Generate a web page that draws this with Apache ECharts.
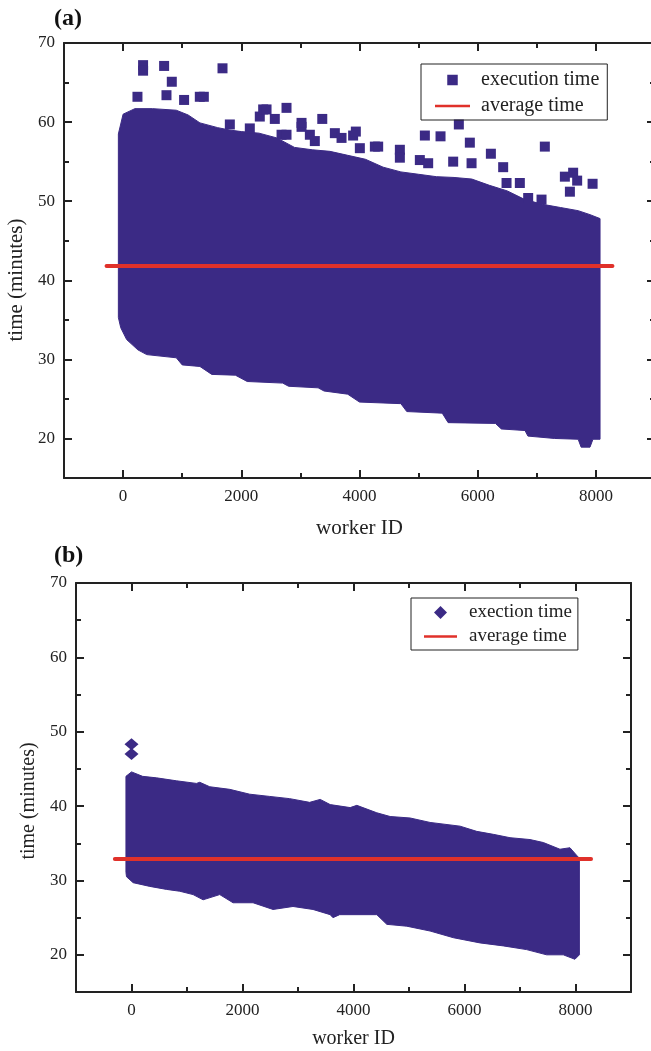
<!DOCTYPE html>
<html>
<head>
<meta charset="utf-8">
<script src="https://cdn.jsdelivr.net/npm/echarts@6/dist/echarts.min.js"></script>
<style>
html,body{margin:0;padding:0;background:#fff;}
#main{width:651px;height:1051px;}
</style>
</head>
<body>
<div id="main"></div>
<script>
// tick positions, shared by both panels
var xMajorTicks = [0, 2000, 4000, 6000, 8000];
var xMinorTicks = [1000, 3000, 5000, 7000];
var yMajorTicks = [20, 30, 40, 50, 60, 70];
var yMinorTicks = [25, 35, 45, 55, 65];

// panel (a): outline of the dense cloud of execution times
var aTopX = [-80, 0, 200, 500, 900, 1100, 1300, 1600, 1800, 2000, 2300, 2600, 2900, 3200, 3500, 3800, 4100, 4400, 4700, 5000, 5300, 5600, 5900, 6200, 6500, 6800, 7100, 7400, 7700, 7900, 8070];
var aTopY = [58.5, 61.0, 61.7, 61.7, 61.5, 60.9, 59.9, 59.3, 59.0, 58.8, 58.6, 58.0, 56.8, 56.5, 56.3, 55.8, 55.3, 54.3, 53.7, 53.4, 53.1, 53.0, 52.8, 52.0, 51.3, 50.2, 49.6, 49.2, 48.8, 48.3, 47.8];
var aLowX = [-80, -40, 60, 250, 400, 900, 1000, 1300, 1500, 1900, 2100, 2700, 2800, 3300, 3400, 3800, 4000, 4700, 4800, 5400, 5500, 6300, 6400, 6800, 6850, 7300, 7700, 7750, 7900, 7950, 8070];
var aLowY = [35.3, 34.0, 32.5, 31.2, 30.6, 30.2, 29.3, 29.1, 28.1, 28.0, 27.2, 27.0, 26.6, 26.4, 26.0, 25.6, 24.6, 24.4, 23.4, 23.2, 22.0, 21.9, 21.2, 21.0, 20.3, 20.0, 19.9, 18.9, 18.9, 19.9, 19.9];
// panel (a): single squares standing out of the cloud
var aOutX = [338, 338, 694, 824, 243, 734, 1032, 1298, 1366, 1682, 1806, 2144, 2313, 2370, 2427, 2567, 2765, 2681, 2765, 3019, 3019, 3160, 3244, 3370, 3583, 3696, 3892, 3938, 4006, 4260, 4316, 4683, 4683, 5021, 5162, 5106, 5371, 5681, 5867, 5585, 5896, 6223, 6431, 6488, 6713, 6854, 7080, 7136, 7475, 7615, 7683, 7560, 7944];
var aOutY = [67.2, 66.5, 67.1, 65.1, 63.2, 63.4, 62.8, 63.2, 63.2, 66.8, 59.7, 59.2, 60.7, 61.6, 61.6, 60.4, 61.8, 58.4, 58.4, 59.4, 59.9, 58.4, 57.6, 60.4, 58.6, 58.0, 58.3, 58.8, 56.7, 56.9, 56.9, 56.5, 55.5, 55.2, 54.8, 58.3, 58.2, 59.7, 57.4, 55.0, 54.8, 56.0, 54.3, 52.3, 52.3, 50.4, 50.2, 56.9, 53.1, 53.6, 52.6, 51.2, 52.2];
var aAvgX = [-280, 8280];
var aAvgY = [41.8, 41.8];

// panel (b)
var bTopX = [-100, 0, 200, 450, 810, 1170, 1230, 1410, 1770, 2130, 2490, 2850, 3210, 3400, 3580, 3940, 4060, 4420, 4660, 5020, 5380, 5920, 6220, 6520, 6820, 7180, 7420, 7720, 7900, 8030, 8070];
var bTopY = [44.0, 44.6, 44.0, 43.8, 43.4, 43.05, 43.2, 42.6, 42.25, 41.6, 41.3, 41.0, 40.5, 40.9, 40.2, 39.8, 40.1, 39.1, 38.6, 38.4, 37.8, 37.3, 36.6, 36.2, 35.75, 35.5, 35.1, 34.2, 34.4, 33.3, 33.0];
var bLowX = [-100, -90, 30, 330, 630, 870, 1110, 1290, 1590, 1830, 2190, 2550, 2910, 3270, 3580, 3630, 3750, 4420, 4600, 4960, 5380, 5800, 6280, 6700, 7120, 7480, 7780, 7990, 8070];
var bLowY = [31.1, 30.5, 29.7, 29.2, 28.8, 28.55, 28.1, 27.4, 28.1, 27.0, 27.0, 26.1, 26.5, 26.1, 25.4, 25.0, 25.4, 25.4, 24.1, 23.85, 23.2, 22.3, 21.6, 21.2, 20.7, 20.0, 20.0, 19.4, 20.0];
var bOutX = [0, 0];
var bOutY = [48.3, 47.0];
var bAvgX = [-300, 8280];
var bAvgY = [32.9, 32.9];

var serif = 'Liberation Serif';
var ink = '#222';
var purple = '#3b2a85';
var red = '#e0312a';

// legend glyphs
var squareIcon = 'path://M0,0L10.5,0L10.5,10.5L0,10.5Z';
var diamondIcon = 'path://M6.5,0L13,6.5L6.5,13L0,6.5Z';
var dashIcon = 'path://M0,0L35,0L35,2.5L0,2.5Z';

function pairs(xs, ys) {
    var out = [];
    for (var i = 0; i < xs.length; i++) out.push([xs[i], ys[i]]);
    return out;
}

function plain(v) { return String(v); }

function xAxes(g, label) {
    var base = {type: 'value', gridIndex: g, min: -1000, max: 9000, splitLine: {show: false}};
    var lineStyle = {color: ink, width: 2};
    return [
        Object.assign({}, base, {
            position: 'bottom',
            axisLine: {show: true, onZero: false, lineStyle: lineStyle},
            axisTick: {show: true, inside: true, length: 8, customValues: xMajorTicks, lineStyle: lineStyle},
            axisLabel: {show: true, customValues: xMajorTicks, formatter: plain, margin: 10, color: ink, fontFamily: serif, fontSize: 17},
            name: 'worker ID', nameLocation: 'middle', nameGap: label.gap,
            nameTextStyle: {fontFamily: serif, fontSize: label.size, color: ink}
        }),
        Object.assign({}, base, {
            position: 'bottom',
            axisLine: {show: false, onZero: false},
            axisTick: {show: true, inside: true, length: 5, customValues: xMinorTicks, lineStyle: lineStyle},
            axisLabel: {show: false}
        }),
        Object.assign({}, base, {
            position: 'top',
            axisLine: {show: true, onZero: false, lineStyle: lineStyle},
            axisTick: {show: true, inside: true, length: 8, customValues: xMajorTicks, lineStyle: lineStyle},
            axisLabel: {show: false}
        }),
        Object.assign({}, base, {
            position: 'top',
            axisLine: {show: false, onZero: false},
            axisTick: {show: true, inside: true, length: 5, customValues: xMinorTicks, lineStyle: lineStyle},
            axisLabel: {show: false}
        })
    ];
}

function yAxes(g, label) {
    var base = {type: 'value', gridIndex: g, min: 15, max: 70, splitLine: {show: false}};
    var lineStyle = {color: ink, width: 2};
    return [
        Object.assign({}, base, {
            position: 'left',
            axisLine: {show: true, onZero: false, lineStyle: lineStyle},
            axisTick: {show: true, inside: true, length: 8, customValues: yMajorTicks, lineStyle: lineStyle},
            axisLabel: {show: true, customValues: yMajorTicks, formatter: plain, margin: 9, color: ink, fontFamily: serif, fontSize: 17},
            name: 'time (minutes)', nameLocation: 'middle', nameGap: label.gap,
            nameTextStyle: {fontFamily: serif, fontSize: label.size, color: ink, padding: [0, label.shift, 0, 0]}
        }),
        Object.assign({}, base, {
            position: 'left',
            axisLine: {show: false, onZero: false},
            axisTick: {show: true, inside: true, length: 5, customValues: yMinorTicks, lineStyle: lineStyle},
            axisLabel: {show: false}
        }),
        Object.assign({}, base, {
            position: 'right',
            axisLine: {show: true, onZero: false, lineStyle: lineStyle},
            axisTick: {show: true, inside: true, length: 8, customValues: yMajorTicks, lineStyle: lineStyle},
            axisLabel: {show: false}
        }),
        Object.assign({}, base, {
            position: 'right',
            axisLine: {show: false, onZero: false},
            axisTick: {show: true, inside: true, length: 5, customValues: yMinorTicks, lineStyle: lineStyle},
            axisLabel: {show: false}
        })
    ];
}

// closed outline: upper edge left to right, lower edge back
function cloudSeries(axisIdx, topX, topY, lowX, lowY) {
    return {
        type: 'custom',
        name: 'cloud',
        xAxisIndex: axisIdx,
        yAxisIndex: axisIdx,
        silent: true,
        z: 2,
        data: [[0, 40]],
        renderItem: function (params, api) {
            var pts = [];
            for (var i = 0; i < topX.length; i++) pts.push(api.coord([topX[i], topY[i]]));
            for (var j = lowX.length - 1; j >= 0; j--) pts.push(api.coord([lowX[j], lowY[j]]));
            return {
                type: 'polygon',
                shape: {points: pts},
                style: {fill: purple, stroke: purple, lineWidth: 1}
            };
        }
    };
}

var myChart = echarts.init(document.getElementById('main'));

var option = {
    animation: false,
    backgroundColor: '#fff',
    title: [
        {text: '(a)', left: 54, top: 7, padding: 0, textStyle: {fontFamily: serif, fontSize: 24, fontWeight: 'bold', color: '#111'}},
        {text: '(b)', left: 54, top: 544, padding: 0, textStyle: {fontFamily: serif, fontSize: 24, fontWeight: 'bold', color: '#111'}}
    ],
    grid: [
        {left: 64, top: 43, width: 591, height: 435, outerBoundsMode: 'none'},
        {left: 76, top: 583, width: 555, height: 409, outerBoundsMode: 'none'}
    ],
    xAxis: xAxes(0, {gap: 40, size: 21}).concat(xAxes(1, {gap: 37, size: 20})),
    yAxis: yAxes(0, {gap: 36, size: 21, shift: 39}).concat(yAxes(1, {gap: 35, size: 20, shift: 27})),
    legend: [
        {
            orient: 'vertical', left: 421, top: 64,
            data: [{name: 'execution time', icon: squareIcon}, {name: 'average time', icon: dashIcon}],
            itemWidth: 35, itemHeight: 10.5, itemGap: 6,
            padding: [6, 8, 4, 14],
            borderColor: ink, borderWidth: 1,
            selectedMode: false,
            textStyle: {fontFamily: serif, fontSize: 20, color: ink, padding: [0, 0, 0, 6]}
        },
        {
            orient: 'vertical', left: 411, top: 598,
            data: [{name: 'exection time', icon: diamondIcon}, {name: 'average time', icon: dashIcon}],
            itemWidth: 33, itemHeight: 13, itemGap: 5,
            padding: [5, 6, 4, 13],
            borderColor: ink, borderWidth: 1,
            selectedMode: false,
            textStyle: {fontFamily: serif, fontSize: 19, color: ink, padding: [0, 0, 0, 7]}
        }
    ],
    series: [
        {
            type: 'scatter', name: 'execution time',
            xAxisIndex: 0, yAxisIndex: 0,
            symbol: 'rect', symbolSize: 10,
            itemStyle: {color: purple, opacity: 1},
            z: 3,
            data: pairs(aOutX, aOutY)
        },
        cloudSeries(0, aTopX, aTopY, aLowX, aLowY),
        {
            type: 'line', name: 'average time',
            xAxisIndex: 0, yAxisIndex: 0,
            symbol: 'none',
            lineStyle: {color: red, width: 4, cap: 'round'},
            itemStyle: {color: red},
            z: 5,
            data: pairs(aAvgX, aAvgY)
        },
        {
            type: 'scatter', name: 'exection time',
            xAxisIndex: 4, yAxisIndex: 4,
            symbol: 'diamond', symbolSize: [14, 12],
            itemStyle: {color: purple, opacity: 1},
            z: 3,
            data: pairs(bOutX, bOutY)
        },
        cloudSeries(4, bTopX, bTopY, bLowX, bLowY),
        {
            type: 'line', name: 'average time',
            xAxisIndex: 4, yAxisIndex: 4,
            symbol: 'none',
            lineStyle: {color: red, width: 4, cap: 'round'},
            itemStyle: {color: red},
            z: 5,
            data: pairs(bAvgX, bAvgY)
        }
    ]
};

if (option && typeof option === "object") {
    myChart.setOption(option, true);
}
</script>
</body>
</html>
